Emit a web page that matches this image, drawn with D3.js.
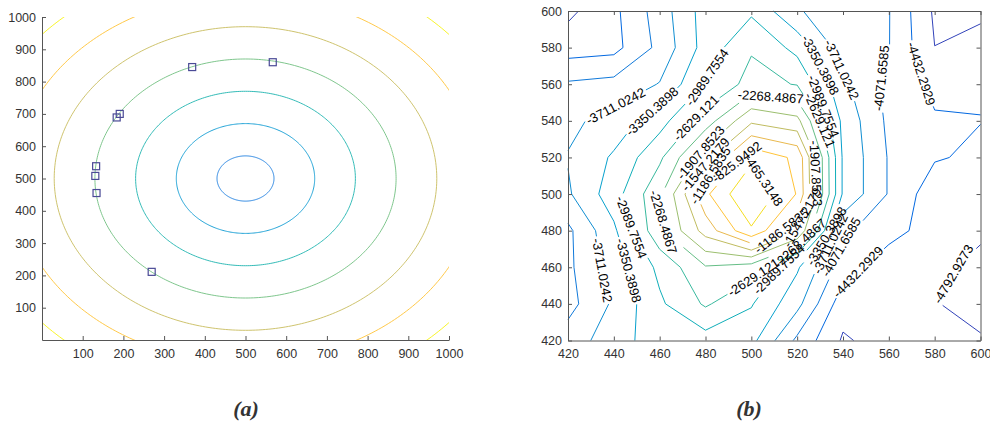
<!DOCTYPE html>
<html>
<head>
<meta charset="utf-8">
<script src="https://cdn.jsdelivr.net/npm/d3@7/dist/d3.min.js"></script>
<style>
  html,body{margin:0;padding:0;background:#fff;}
</style>
</head>
<body>
<svg id="chart" width="990" height="423"></svg>
<script>
// ---------------- Panel (a) data ----------------
const aTickValues = [100,200,300,400,500,600,700,800,900,1000];
const aCenterX = 500, aCenterY = 500;
const aRadii = [70,170,270,370,470,570,670];
const aPointX = [369,567,191,183.5,133,131,134,269.5];
const aPointY = [845,860,700,689,538,508,455,211];

// ---------------- Panel (b) data ----------------
const bTickValues = [420,440,460,480,500,520,540,560,580,600];
const bGridX = [420,440,460,480,500,520,540,560,580,600];
const bGridY = [600,580,560,540,520,500,480,460,440,420];
const z600 = [-4875,-4518,-3900,-3191,-3052,-3674,-3950,-4056,-4848,-4900];
const z580 = [-4602,-4547,-3973,-3205,-2668,-3100,-3900,-4060,-4790,-4594];
const z560 = [-4025,-3955,-3693,-2960,-2500,-2650,-3628,-4182,-4500,-4470];
const z540 = [-3800,-3566,-3134,-2450,-1617,-1800,-3450,-4150,-4404,-4425];
const z520 = [-3690,-3300,-2700,-1700,-560,-900,-3400,-4100,-4400,-4500];
const z500 = [-3760,-3150,-2345,-900,-80,-850,-3400,-4100,-4650,-4700];
const z480 = [-4150,-3420,-2350,-1400,-520,-1500,-4000,-4300,-4600,-4770];
const z460 = [-4150,-3550,-2900,-2300,-2450,-3300,-4250,-4650,-4760,-4830];
const z440 = [-4200,-3650,-3050,-2580,-2960,-3600,-4650,-4720,-4780,-4880];
const z420 = [-3900,-3520,-3150,-3150,-3242,-4150,-4836,-4650,-4760,-4770];
const bLevelLabels = ["-4792.9273","-4432.2929","-4071.6585","-3711.0242","-3350.3898","-2989.7554","-2629.121","-2268.4867","-1907.8523","-1547.2179","-1186.5835","-825.9492","-465.3148"];
// label anchors: level index, data x, data y
const bLabelLevel = [3,4,5,6,7,8,9,10,11,12,7,5,3,4,4,3,5,6,2,1,8,9,10,7,6,5,4,3,2,1,0];
const bLabelX = [440.6,456.6,481.3,474.5,508.2,475.5,478.5,482.7,494.4,506,462.4,448.6,435.5,447.2,528.5,538.7,527.8,530,556.8,572.1,527,523.4,512.8,520.5,502.4,512.5,531.4,534.3,540.8,545.9,583.7];
const bLabelY = [548.4,545.3,563.3,543.1,551.3,525.5,517.5,509.5,516.7,508,484.9,482.2,458.5,458.5,569.5,567.6,545.8,540.4,563.3,564.9,511.3,486.7,480.9,474,453.1,458.5,478.5,473,470.4,458.5,458.6];

const PARULA = ["#352A87","#363093","#3637A0","#353DAD","#3243BA","#2C4AC7","#2053D4","#0F5CDD","#0363E1","#0268E1","#046DE0","#0871DE","#0D75DC","#1079DA","#127DD8","#1481D6","#1485D4","#1389D2","#108ED2","#0C93D2","#0998D1","#079CCF","#06A0CD","#06A4CA","#06A7C6","#07A9C2","#0AACBE","#0FAEB9","#15B1B4","#1DB3AF","#25B5A9","#2EB7A4","#38B99E","#42BB98","#4DBC92","#59BD8C","#65BE86","#71BF80","#7CBF7B","#87BF77","#92BF73","#9CBF6F","#A5BE6B","#AEBE67","#B7BD64","#C0BC60","#C8BC5D","#D1BB59","#D9BA56","#E1B952","#E9B94E","#F1B94A","#F8BB44","#FDBE3D","#FFC337","#FEC832","#FCCE2E","#FAD32A","#F7D826","#F5DE21","#F5E41D","#F5EB18","#F6F313","#F9FB0E"];
function cmap(f){ return PARULA[Math.max(0, Math.min(63, Math.floor(f*64)))]; }

const AXIS = "#555555", TXT = "#333333", FONT = '"Liberation Sans", Arial, sans-serif';
const TICK_FS = 12.5;
const svg = d3.select("#chart");
const defs = svg.append("defs");

function styleAxis(g){
  g.attr("font-size", TICK_FS).attr("font-family", FONT);
  g.select(".domain").attr("stroke", AXIS).attr("stroke-width", 1);
  g.selectAll(".tick line").attr("stroke", AXIS).attr("stroke-width", 1);
  g.selectAll(".tick text").attr("fill", TXT);
}
const fmt = d3.format("d");

// ================= Panel (a) =================
const ax = d3.scaleLinear().domain([0,1000]).range([42,449]);
const ay = d3.scaleLinear().domain([0,1000]).range([340,17]);
defs.append("clipPath").attr("id","clipA").append("rect")
  .attr("x", ax(0)).attr("y", ay(1000)).attr("width", ax(1000)-ax(0)).attr("height", ay(0)-ay(1000));
const gA = svg.append("g");
const lineA = d3.line().x(d => ax(d[0])).y(d => ay(d[1]));
const aCMin = -80, aCMax = 685;
const angs = d3.range(0, 361, 1);
gA.append("g").attr("clip-path","url(#clipA)")
  .selectAll("path").data(aRadii).join("path")
  .attr("d", r => lineA(angs.map(t => [aCenterX + r*Math.cos(t*Math.PI/180), aCenterY + r*Math.sin(t*Math.PI/180)])))
  .attr("fill","none").attr("stroke", r => cmap((r - aCMin)/(aCMax - aCMin))).attr("stroke-width", 0.9);
gA.append("g").attr("transform", `translate(0,${ay(0)})`)
  .call(d3.axisBottom(ax).tickValues(aTickValues).tickFormat(fmt).tickSize(-4).tickSizeOuter(0).tickPadding(9)).call(styleAxis);
gA.append("g").attr("transform", `translate(${ax(0)},0)`)
  .call(d3.axisLeft(ay).tickValues(aTickValues).tickFormat(fmt).tickSize(-4).tickSizeOuter(0).tickPadding(6)).call(styleAxis);
gA.append("g").selectAll("rect").data(aPointX.map((x,i) => [x, aPointY[i]])).join("rect")
  .attr("x", d => ax(d[0]) - 3.5).attr("y", d => ay(d[1]) - 3.5)
  .attr("width", 7).attr("height", 7)
  .attr("fill","none").attr("stroke","#4a4a96").attr("stroke-width",1.2);

// ================= Panel (b) =================
const bx = d3.scaleLinear().domain([420,600]).range([568,980.5]);
const by = d3.scaleLinear().domain([420,600]).range([340.5,11]);
const gB = svg.append("g");

const bRows = [z600,z580,z560,z540,z520,z500,z480,z460,z440,z420];
const nx = bGridX.length, ny = bGridY.length;
const yAsc = bGridY.slice().reverse();
const vals = [];
bRows.slice().reverse().forEach(r => r.forEach(v => vals.push(v)));
const levels = bLevelLabels.map(Number);
const contours = d3.contours().size([nx, ny]).thresholds(levels)(vals);
const gxs = d3.scaleLinear().domain([0.5, nx-0.5]).range([bGridX[0], bGridX[nx-1]]);
const gys = d3.scaleLinear().domain([0.5, ny-0.5]).range([yAsc[0], yAsc[ny-1]]);

function toPix(p){ return [bx(gxs(p[0])), by(gys(p[1]))]; }
function ringsToLines(geom){
  const out = [];
  const onB = p => p[0] <= 0 || p[0] >= nx || p[1] <= 0 || p[1] >= ny;
  geom.coordinates.forEach(poly => poly.forEach(ring => {
    const pts = ring.slice(0, -1);
    const n = pts.length;
    const st = pts.findIndex(onB);
    if (st < 0) { out.push({pts: pts.concat([pts[0]]).map(toPix), closed: true}); return; }
    let cur = [];
    for (let k = 1; k <= n; k++) {
      const p = pts[(st + k) % n];
      if (onB(p)) { if (cur.length > 1) out.push({pts: cur.map(toPix), closed: false}); cur = []; }
      else cur.push(p);
    }
  }));
  out.forEach(l => {
    l.s = [0];
    for (let k = 1; k < l.pts.length; k++) l.s.push(l.s[k-1] + Math.hypot(l.pts[k][0]-l.pts[k-1][0], l.pts[k][1]-l.pts[k-1][1]));
    l.L = l.s[l.s.length-1];
    l.gaps = [];
  });
  return out;
}
const levelLines = contours.map(ringsToLines);

function pointAt(l, t){
  if (l.closed) t = ((t % l.L) + l.L) % l.L; else t = Math.max(0, Math.min(l.L, t));
  let k = d3.bisectRight(l.s, t) - 1;
  k = Math.max(0, Math.min(l.pts.length - 2, k));
  const seg = l.s[k+1] - l.s[k];
  const u = seg > 0 ? (t - l.s[k]) / seg : 0;
  return [l.pts[k][0] + u*(l.pts[k+1][0]-l.pts[k][0]), l.pts[k][1] + u*(l.pts[k+1][1]-l.pts[k][1])];
}
function project(l, q){
  let best = {d: Infinity, t: 0};
  for (let k = 0; k < l.pts.length - 1; k++) {
    const a = l.pts[k], b = l.pts[k+1];
    const dx = b[0]-a[0], dy = b[1]-a[1];
    const len2 = dx*dx + dy*dy;
    let u = len2 > 0 ? ((q[0]-a[0])*dx + (q[1]-a[1])*dy) / len2 : 0;
    u = Math.max(0, Math.min(1, u));
    const px = a[0] + u*dx, py = a[1] + u*dy;
    const d = Math.hypot(q[0]-px, q[1]-py);
    if (d < best.d) best = {d, t: l.s[k] + u*(l.s[k+1]-l.s[k])};
  }
  return best;
}

const LABEL_FS = 13;
const meas = svg.append("text").attr("font-size", LABEL_FS).attr("font-family", FONT);
const labelW = bLevelLabels.map(t => { meas.text(t); return meas.node().getComputedTextLength(); });
meas.remove();

const labelsOut = [];
bLabelLevel.forEach((li, k) => {
  const q = [bx(bLabelX[k]), by(bLabelY[k])];
  let best = null;
  levelLines[li].forEach(l => { const r = project(l, q); if (!best || r.d < best.d) best = {d: r.d, t: r.t, l}; });
  if (!best) return;
  const h = labelW[li] / 2 + 2;
  const l = best.l;
  let t0 = best.t;
  if (!l.closed) t0 = Math.max(Math.min(t0, l.L - h*0.3), h*0.3);
  l.gaps.push([t0 - h, t0 + h]);
  const pa = pointAt(l, t0 - h), pb = pointAt(l, t0 + h), pc = pointAt(l, t0);
  let ang = Math.atan2(pb[1]-pa[1], pb[0]-pa[0]) * 180 / Math.PI;
  if (ang > 90) ang -= 180;
  if (ang <= -90) ang += 180;
  labelsOut.push({x: pc[0], y: pc[1], ang, text: bLevelLabels[li]});
});

function visiblePieces(l){
  let iv = [];
  l.gaps.forEach(([a, b]) => {
    if (l.closed) {
      if (a < 0) { iv.push([a + l.L, l.L]); iv.push([0, b]); }
      else if (b > l.L) { iv.push([a, l.L]); iv.push([0, b - l.L]); }
      else iv.push([a, b]);
    } else iv.push([Math.max(0, a), Math.min(l.L, b)]);
  });
  iv.sort((p, q) => p[0] - q[0]);
  const merged = [];
  iv.forEach(v => { if (merged.length && v[0] <= merged[merged.length-1][1]) merged[merged.length-1][1] = Math.max(merged[merged.length-1][1], v[1]); else merged.push(v.slice()); });
  const keep = [];
  let cur = 0;
  merged.forEach(([a, b]) => { if (a > cur) keep.push([cur, a]); cur = Math.max(cur, b); });
  if (cur < l.L) keep.push([cur, l.L]);
  return keep.map(([a, b]) => {
    const o = [pointAt(l, a)];
    for (let k = 0; k < l.pts.length; k++) if (l.s[k] > a && l.s[k] < b) o.push(l.pts[k]);
    o.push(pointAt(l, b));
    return o;
  });
}

const pline = d3.line();
levelLines.forEach((lines, li) => {
  const col = cmap((li + 1) / (levels.length + 1));
  lines.forEach(l => {
    visiblePieces(l).forEach(pc => {
      gB.append("path").attr("d", pline(pc)).attr("fill","none").attr("stroke", col).attr("stroke-width", 1);
    });
  });
});

gB.append("g").selectAll("text").data(labelsOut).join("text")
  .attr("transform", d => `translate(${d.x},${d.y}) rotate(${d.ang})`)
  .attr("text-anchor","middle").attr("dominant-baseline","central")
  .attr("font-size", LABEL_FS).attr("font-family", FONT).attr("fill","#000")
  .text(d => d.text);

// axes (box with inward ticks)
gB.append("g").attr("transform", `translate(0,${by(420)})`)
  .call(d3.axisBottom(bx).tickValues(bTickValues).tickFormat(fmt).tickSize(-4).tickSizeOuter(0).tickPadding(9)).call(styleAxis);
gB.append("g").attr("transform", `translate(${bx(420)},0)`)
  .call(d3.axisLeft(by).tickValues(bTickValues).tickFormat(fmt).tickSize(-4).tickSizeOuter(0).tickPadding(6)).call(styleAxis);
gB.append("g").attr("transform", `translate(0,${by(600)})`)
  .call(d3.axisTop(bx).tickValues(bTickValues).tickSize(-4).tickSizeOuter(0).tickFormat("")).call(styleAxis);
gB.append("g").attr("transform", `translate(${bx(600)},0)`)
  .call(d3.axisRight(by).tickValues(bTickValues).tickSize(-4).tickSizeOuter(0).tickFormat("")).call(styleAxis);

// captions
const capFont = '"Liberation Serif", "Times New Roman", serif';
[["(a)", 246], ["(b)", 749]].forEach(([t, x]) => {
  svg.append("text").attr("x", x).attr("y", 416).attr("text-anchor","middle")
    .style("font-family", capFont).style("font-weight","bold").style("font-style","italic")
    .style("font-size","22px").attr("fill","#333").text(t);
});
</script>
</body>
</html>
